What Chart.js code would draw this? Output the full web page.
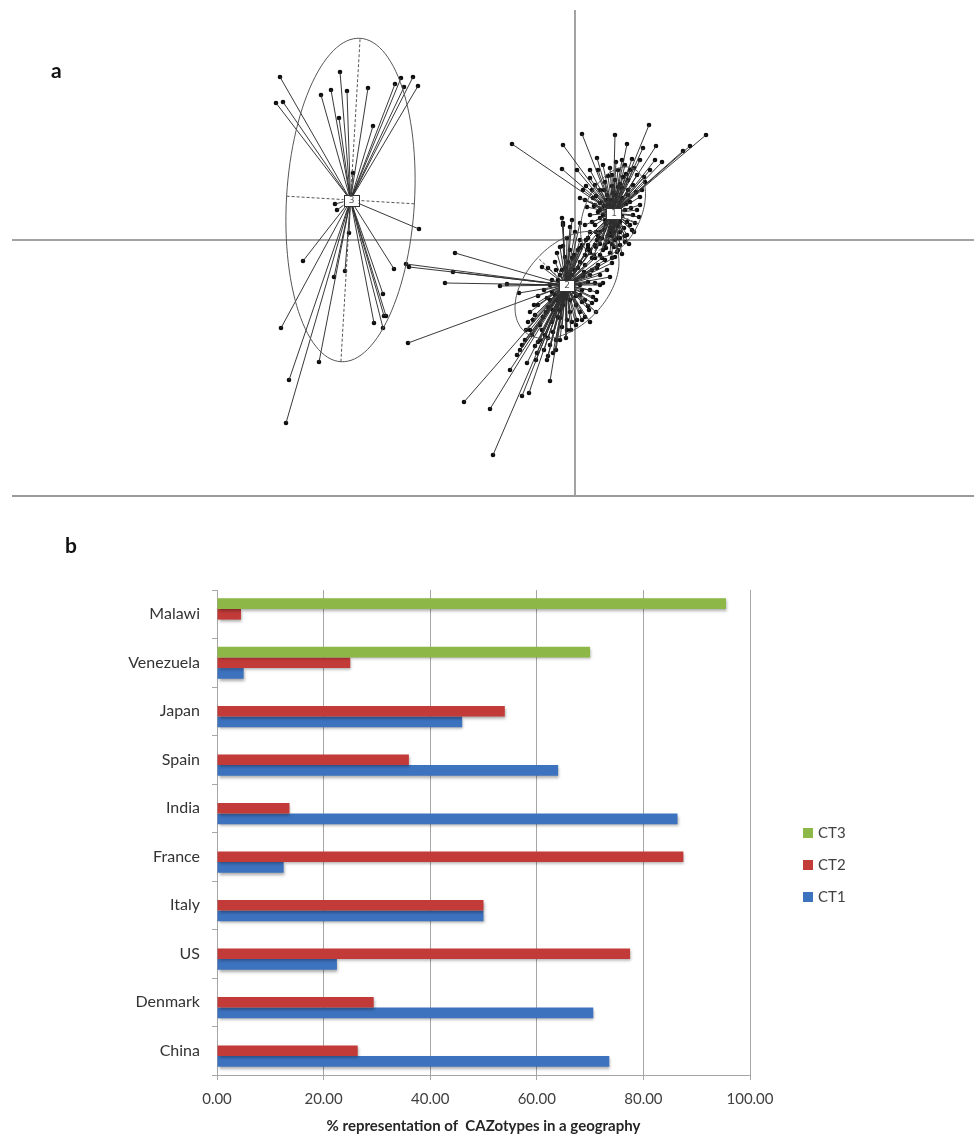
<!DOCTYPE html>
<html>
<head>
<meta charset="utf-8">
<script src="https://cdn.jsdelivr.net/npm/chart.js@4.4.1/dist/chart.umd.min.js"></script>
<style>
  html, body { margin: 0; padding: 0; background: #fff; }
  #wrap { position: relative; width: 974px; height: 1135px; overflow: hidden; }
  #pca { position: absolute; left: 0; top: 0; width: 974px; height: 500px; }
  #bars { position: absolute; left: 0; top: 500px; width: 974px; height: 635px; }
  .panel { position: absolute; font-family: Lato, "Open Sans", sans-serif; font-weight: bold;
           font-size: 21px; line-height: 1; color: #111; }
</style>
</head>
<body>
<div id="wrap">
  <canvas id="pca" width="974" height="500"></canvas>
  <canvas id="bars" width="974" height="635"></canvas>
  <div class="panel" style="left:51px;top:59px">a</div>
  <div class="panel" style="left:65px;top:534px">b</div>
</div>
<script>
// ---------- Panel a: sample scores on the first two components ----------
const scoreRangeX = [-56.3, 39.9];
const scoreRangeY = [-25.6, 23.0];

// CAZotype 1 samples
const scoresCT1 = [
  [-6.3, 9.6], [-1.2, 9.5], [0.7, 10.6], [4.0, 10.5], [5.2, 9.6], [7.4, 11.5], [8.1, 9.4],
  [13.1, 10.5], [11.5, 9.4], [10.8, 8.9], [-1.3, 7.1], [2.2, 8.2], [0.2, 7.0], [6.8, 9.2],
  [4.1, 7.8], [5.7, 8.1], [5.5, 7.0], [6.2, 6.5], [6.9, 6.3], [7.0, 5.8], [3.5, 7.2],
  [3.0, 5.8], [1.5, 6.2], [2.5, 5.0], [0.8, 5.0], [0.5, 4.2], [1.2, 3.3], [6.2, 3.0],
  [6.4, 2.3], [6.0, 1.7], [5.7, 1.0], [5.2, 0.5], [5.0, -0.2], [4.3, -1.0], [3.5, -1.3],
  [2.5, -1.5], [1.5, -1.0], [6.5, 4.3], [6.7, 5.0], [4.8, 6.3], [4.3, 5.3], [3.8, 4.7],
  [1.8, 4.2], [2.5, 3.7], [4.5, 4.0], [3.3, 3.5], [5.0, 3.0], [2.8, 2.5], [4.5, 1.8],
  [3.5, 1.2], [2.5, 0.8], [4.0, 0.0], [3.0, -0.5], [2.0, 1.5], [5.3, 4.5], [5.8, 5.5],
  [4.0, 6.0], [2.0, 5.5], [3.2, 4.5], [5.5, 3.8], [1.5, 2.5], [1.0, 1.5], [4.5, 0.8],
  [3.7, 0.4], [2.2, 0.0], [1.3, 0.2], [5.0, 7.5], [3.7, 6.5], [2.3, 7.0], [8.0, 8.0],
  [8.7, 7.8], [7.5, 7.0], [3.0, 2.0], [3.5, 1.8], [4.1, 1.5], [4.7, 2.4], [5.2, 1.8],
  [2.9, 1.0], [2.3, 0.4], [3.3, -0.2], [3.9, -0.7], [2.8, -1.0], [2.1, -0.7], [4.5, -0.5],
  [5.0, 0.4], [5.5, 1.5], [5.8, 2.5], [2.5, 3.0], [2.0, 3.5], [3.1, 4.0], [4.1, 4.5],
  [4.7, 5.2], [5.3, 6.0], [6.1, 4.8], [6.5, 3.5], [1.0, 4.0], [1.7, 5.0], [1.3, -0.5],
  [1.9, -1.5], [3.7, -1.8], [4.3, 0.2], [3.5, 0.8],
  [2.5, 2.2], [3.1, 1.6], [3.7, 1.2], [4.3, 1.4], [4.9, 1.2], [2.7, 0.2], [3.3, 0.4],
  [3.9, 0.8], [4.5, 0.2], [3.1, -0.8], [3.7, -0.4], [4.2, -1.2], [2.5, -0.4], [2.1, 0.8],
  [1.7, 1.8], [2.3, 2.8], [2.9, 3.4], [3.5, 4.0], [4.3, 3.4], [4.7, 4.2], [5.1, 3.6],
  [5.6, 3.2], [5.3, 5.0], [4.5, 5.6], [3.7, 5.4], [2.9, 5.0], [2.1, 4.4], [3.3, 6.4],
  [4.3, 7.0], [5.1, 6.6], [5.9, 7.2], [6.5, 8.0], [4.7, 8.0], [2.8, 7.5], [1.5, 7.0],
  [1.1, 5.4], [1.9, 3.4], [5.9, 0.8], [5.4, -0.4], [4.7, -1.4]
];

// CAZotype 2 samples
const scoresCT2 = [
  [-12.0, -1.3], [-12.2, -3.2], [-13.0, -4.3], [-7.5, -4.6], [-6.8, -4.4], [-5.6, -5.3],
  [-16.9, -2.4], [-16.6, -2.7], [-16.7, -10.3], [-11.1, -16.2], [-8.5, -16.9], [-8.2, -21.5],
  [-6.5, -13.0], [-5.3, -15.6], [-4.6, -15.3], [-2.5, -14.1], [-4.8, -12.3], [-3.9, -12.0],
  [-2.8, -12.0], [-2.7, -11.6], [-2.2, -11.3], [-3.8, -11.3], [-4.0, -10.6], [-3.5, -10.0],
  [-3.3, -2.7], [-2.7, -2.8], [-2.0, -2.2], [-1.8, -1.3], [-1.5, -0.7], [-1.2, 1.7],
  [-0.5, 1.3], [0.5, 0.0], [1.2, -1.0], [1.5, -1.3], [2.8, -4.3], [2.2, -5.2], [1.8, -5.7],
  [1.7, -6.3], [1.4, -7.0], [1.0, -7.7], [0.2, -8.0], [-0.3, -8.2], [-0.8, -8.0],
  [-2.8, -5.8], [-2.7, -6.7], [-3.2, -7.7], [-3.5, -8.5], [-2.2, -7.0], [-1.7, -7.7],
  [-1.3, -8.7], [-0.8, -9.0], [3.7, -2.3], [4.0, -1.7], [3.2, -3.0], [3.5, -3.7],
  [0.0, -3.0], [0.5, -2.2], [1.0, -1.5], [2.0, -0.5], [2.5, 0.2], [1.5, 0.8], [0.3, -1.0],
  [-0.3, -1.8], [-1.0, -2.8], [-1.5, -3.5], [-2.3, -4.0], [0.1, -4.0], [0.8, -3.6],
  [2.3, -2.5], [2.7, -1.8], [1.7, -3.0], [-0.5, -6.0], [0.1, -6.5], [0.5, -5.5], [-1.8, -6.0],
  [-2.3, -5.2], [-1.5, -7.0], [-3.0, -9.5], [-2.5, -10.5], [-1.9, -10.0], [-4.5, -9.0],
  [-5.0, -10.0], [-5.5, -11.0], [-4.2, -8.0], [-3.7, -6.5], [-1.2, -0.6], [-0.8, 0.2],
  [0.0, 0.8], [-1.3, 2.2], [-1.2, 1.5], [-0.3, 2.0], [0.5, 1.7], [1.0, -2.5], [1.5, -3.5],
  [2.0, -4.3], [0.5, -4.5], [-0.1, -5.2], [1.0, -6.0], [1.5, -5.0], [2.5, -3.5], [3.0, -2.0],
  [2.0, -1.8], [1.3, -0.8], [0.7, -0.5], [-0.5, -1.0], [-1.0, -1.7], [-1.9, -3.0],
  [-2.5, -4.5], [-2.0, -5.5], [-1.2, -6.5], [-0.5, -7.2], [0.5, -7.2], [-4.0, -7.5],
  [-4.7, -8.2], [-3.3, -9.0], [-2.7, -9.8], [-2.2, -9.2], [-4.3, -9.5], [-5.3, -10.5],
  [-5.8, -11.5],
  [-0.3, -3.5], [0.3, -2.8], [0.9, -3.2], [1.3, -4.2], [0.7, -5.0], [0.1, -5.6], [-0.5, -4.8],
  [-1.3, -5.2], [-1.7, -4.0], [-1.3, -3.0], [-0.7, -2.2], [-0.1, -1.5], [0.5, -0.8],
  [1.1, 0.0], [1.7, -1.8], [2.2, -2.8], [2.5, -4.5], [2.1, -6.0], [1.3, -6.6], [0.7, -6.2],
  [-0.9, -5.8], [-1.5, -7.8], [-2.3, -8.2], [-2.9, -7.2], [-2.5, -6.0], [-3.1, -5.0],
  [-3.7, -5.6], [-4.1, -6.5], [-4.5, -7.2], [-4.9, -9.0], [-3.7, -10.2], [-3.1, -11.0],
  [-1.9, -11.0], [-1.5, -10.0], [-0.9, -9.8], [-0.4, -9.0], [0.1, -8.5], [0.7, -8.0],
  [1.5, -8.2], [2.1, -7.2]
];

// CAZotype 3 samples
const scoresCT3 = [
  [-24.4, 15.0], [-29.5, 16.3], [-29.9, 13.7], [-29.2, 13.8], [-23.5, 16.8], [-25.4, 14.5],
  [-22.8, 14.9], [-20.7, 15.2], [-23.6, 12.2], [-20.2, 11.4], [-22.2, 6.7], [-17.4, 16.2],
  [-16.2, 16.3], [-18.0, 15.6], [-17.1, 15.3], [-15.7, 15.4], [-27.2, -2.1], [-24.0, 3.6],
  [-23.8, 3.0], [-15.6, 1.1], [-29.4, -8.8], [-28.6, -14.0], [-28.9, -18.3], [-25.6, -12.2],
  [-24.1, -3.7], [-23.0, -3.1], [-18.1, -2.9], [-20.1, -8.3], [-19.2, -5.4], [-19.1, -7.6],
  [-18.9, -7.6], [-19.2, -8.8], [-22.6, 0.7]
];

// Cluster centres and their inertia ellipses: [semi-major, semi-minor, angle in degrees]
const clusterNames = ['1', '2', '3'];
const clusterCentres = [[3.8, 2.7], [-0.9, -4.5], [-22.45, 4.0]];
const ellipseCentres = [[3.8, 2.8], [-0.8, -4.5], [-22.45, 4.0]];
const ellipseAxes = [[4.8, 2.8, 65], [6.3, 4.0, 47], [16.2, 6.4, 86.6]];

const clusterScores = [scoresCT1, scoresCT2, scoresCT3];

// spokes: centre -> sample, separated by gaps
function spokeData(centre, pts) {
  const out = [];
  pts.forEach(p => {
    out.push({ x: centre[0], y: centre[1] }, { x: p[0], y: p[1] }, { x: centre[0], y: null });
  });
  return out;
}

const pcaDatasets = [];
clusterScores.forEach((pts, i) => {
  pcaDatasets.push({
    type: 'line',
    data: spokeData(clusterCentres[i], pts),
    borderColor: '#2e2e2e',
    borderWidth: 0.95,
    pointRadius: 0,
    spanGaps: false,
    tension: 0,
    fill: false
  });
});
clusterScores.forEach(pts => {
  pcaDatasets.push({
    type: 'scatter',
    data: pts.map(p => ({ x: p[0], y: p[1] })),
    pointRadius: 2.3,
    pointBackgroundColor: '#0d0d0d',
    pointBorderWidth: 0
  });
});

// zero axes and bottom frame line
const pcaAxes = {
  id: 'pcaAxes',
  beforeDatasetsDraw(chart) {
    const { ctx, chartArea: a, scales: { x, y } } = chart;
    ctx.save();
    ctx.strokeStyle = '#858585';
    ctx.lineWidth = 1.5;
    const x0 = x.getPixelForValue(0), y0 = y.getPixelForValue(0);
    ctx.beginPath();
    ctx.moveTo(a.left, y0); ctx.lineTo(a.right, y0);
    ctx.moveTo(x0, a.top); ctx.lineTo(x0, a.bottom);
    ctx.stroke();
    ctx.strokeStyle = '#9a9a9a';
    ctx.lineWidth = 2;
    ctx.beginPath();
    ctx.moveTo(a.left, a.bottom); ctx.lineTo(a.right, a.bottom);
    ctx.stroke();
    ctx.restore();
  }
};

// ellipses with dashed axes, then labelled centre boxes
const pcaClusters = {
  id: 'pcaClusters',
  afterDatasetsDraw(chart) {
    const { ctx, scales: { x, y } } = chart;
    const px = (u, v) => [x.getPixelForValue(u), y.getPixelForValue(v)];
    ctx.save();
    ellipseCentres.forEach((c, i) => {
      const [ra, rb, deg] = ellipseAxes[i];
      const t = deg * Math.PI / 180, ct = Math.cos(t), st = Math.sin(t);
      ctx.strokeStyle = '#555';
      ctx.lineWidth = 1;
      ctx.setLineDash([]);
      ctx.beginPath();
      for (let k = 0; k <= 120; k++) {
        const s = k / 120 * Math.PI * 2;
        const u = c[0] + ra * ct * Math.cos(s) - rb * st * Math.sin(s);
        const v = c[1] + ra * st * Math.cos(s) + rb * ct * Math.sin(s);
        const [X, Y] = px(u, v);
        k ? ctx.lineTo(X, Y) : ctx.moveTo(X, Y);
      }
      ctx.stroke();
      ctx.setLineDash([3, 2]);
      ctx.beginPath();
      let p1 = px(c[0] - ra * ct, c[1] - ra * st), p2 = px(c[0] + ra * ct, c[1] + ra * st);
      ctx.moveTo(p1[0], p1[1]); ctx.lineTo(p2[0], p2[1]);
      p1 = px(c[0] + rb * st, c[1] - rb * ct); p2 = px(c[0] - rb * st, c[1] + rb * ct);
      ctx.moveTo(p1[0], p1[1]); ctx.lineTo(p2[0], p2[1]);
      ctx.stroke();
    });
    ctx.setLineDash([]);
    clusterCentres.forEach((c, i) => {
      const [X, Y] = px(c[0], c[1]);
      ctx.fillStyle = '#fff';
      ctx.strokeStyle = '#333';
      ctx.lineWidth = 1;
      ctx.fillRect(X - 7, Y - 5, 15, 11);
      ctx.strokeRect(Math.round(X - 7) + 0.5, Math.round(Y - 5) + 0.5, 15, 11);
      ctx.fillStyle = '#555';
      ctx.font = '9px "DejaVu Sans", sans-serif';
      ctx.textAlign = 'center';
      ctx.textBaseline = 'middle';
      ctx.fillText(clusterNames[i], X + 1, Y + 1);
    });
    ctx.restore();
  }
};

new Chart(document.getElementById('pca'), {
  type: 'scatter',
  data: { datasets: pcaDatasets },
  options: {
    responsive: false,
    animation: false,
    events: [],
    layout: { autoPadding: false, padding: { left: 12, top: 10, right: 0, bottom: 4 } },
    plugins: { legend: { display: false }, tooltip: { enabled: false } },
    scales: {
      x: { type: 'linear', min: scoreRangeX[0], max: scoreRangeX[1], display: false },
      y: { type: 'linear', min: scoreRangeY[0], max: scoreRangeY[1], display: false }
    }
  },
  plugins: [pcaAxes, pcaClusters]
});

// ---------- Panel b: CAZotype share per country ----------
const countries = ['Malawi', 'Venezuela', 'Japan', 'Spain', 'India', 'France', 'Italy', 'US', 'Denmark', 'China'];
const ct3Share = [95.5, 70.0, 0, 0, 0, 0, 0, 0, 0, 0];
const ct2Share = [4.5, 25.0, 54.0, 36.0, 13.6, 87.5, 50.0, 77.5, 29.4, 26.4];
const ct1Share = [0, 5.0, 46.0, 64.0, 86.4, 12.5, 50.0, 22.5, 70.6, 73.6];
const shareTicks = [0, 20, 40, 60, 80, 100];

const barShadow = {
  id: 'barShadow',
  beforeDatasetsDraw(chart) {
    const ctx = chart.ctx;
    ctx.save();
    ctx.shadowColor = 'rgba(0,0,0,0.35)';
    ctx.shadowBlur = 3;
    ctx.shadowOffsetX = 1;
    ctx.shadowOffsetY = 2;
  },
  afterDatasetsDraw(chart) { chart.ctx.restore(); }
};

const sideLegend = {
  id: 'sideLegend',
  afterDraw(chart) {
    const { ctx, chartArea: a } = chart;
    const x = a.right + 53;
    const y0 = (a.top + a.bottom) / 2 + 0.5;
    ctx.save();
    ctx.font = '15px Lato, "Open Sans", sans-serif';
    ctx.textBaseline = 'middle';
    ctx.textAlign = 'left';
    chart.data.datasets.forEach((ds, i) => {
      const y = y0 + i * 32;
      ctx.fillStyle = ds.backgroundColor;
      ctx.fillRect(x, y - 5, 10, 10);
      ctx.fillStyle = '#404040';
      ctx.fillText(ds.label, x + 15, y);
    });
    ctx.restore();
  }
};

new Chart(document.getElementById('bars'), {
  type: 'bar',
  data: {
    labels: countries,
    datasets: [
      { label: 'CT3', data: ct3Share, backgroundColor: '#8db746' },
      { label: 'CT2', data: ct2Share, backgroundColor: '#c33b39' },
      { label: 'CT1', data: ct1Share, backgroundColor: '#3d72bf' }
    ]
  },
  options: {
    indexAxis: 'y',
    responsive: false,
    animation: false,
    events: [],
    layout: { padding: { top: 90, right: 224, bottom: 0, left: 0 } },
    datasets: { bar: { categoryPercentage: 0.66, barPercentage: 1.0, borderWidth: 0 } },
    plugins: { legend: { display: false }, tooltip: { enabled: false } },
    scales: {
      x: {
        min: shareTicks[0],
        max: shareTicks[shareTicks.length - 1],
        afterBuildTicks(scale) { scale.ticks = shareTicks.map(v => ({ value: v })); },
        ticks: {
          callback: v => Number(v).toFixed(2),
          color: '#404040',
          font: { family: 'Lato', size: 15 },
          padding: 10
        },
        grid: { color: '#a6a6a6', lineWidth: 1, tickLength: 5 },
        border: { color: '#a6a6a6' },
        title: {
          display: true,
          text: '% representation of  CAZotypes in a geography',
          color: '#262626',
          font: { family: 'Lato', size: 15, weight: 'bold' },
          padding: { top: 0, bottom: 0 }
        },
        afterFit(scale) { scale.height = 60; }
      },
      y: {
        ticks: { color: '#333', font: { family: 'Lato', size: 16 }, padding: 12 },
        grid: { drawOnChartArea: false, tickLength: 5, color: '#a6a6a6', offset: true },
        border: { color: '#a6a6a6' },
        afterFit(scale) { scale.width = 217; }
      }
    }
  },
  plugins: [barShadow, sideLegend]
});
</script>
</body>
</html>
